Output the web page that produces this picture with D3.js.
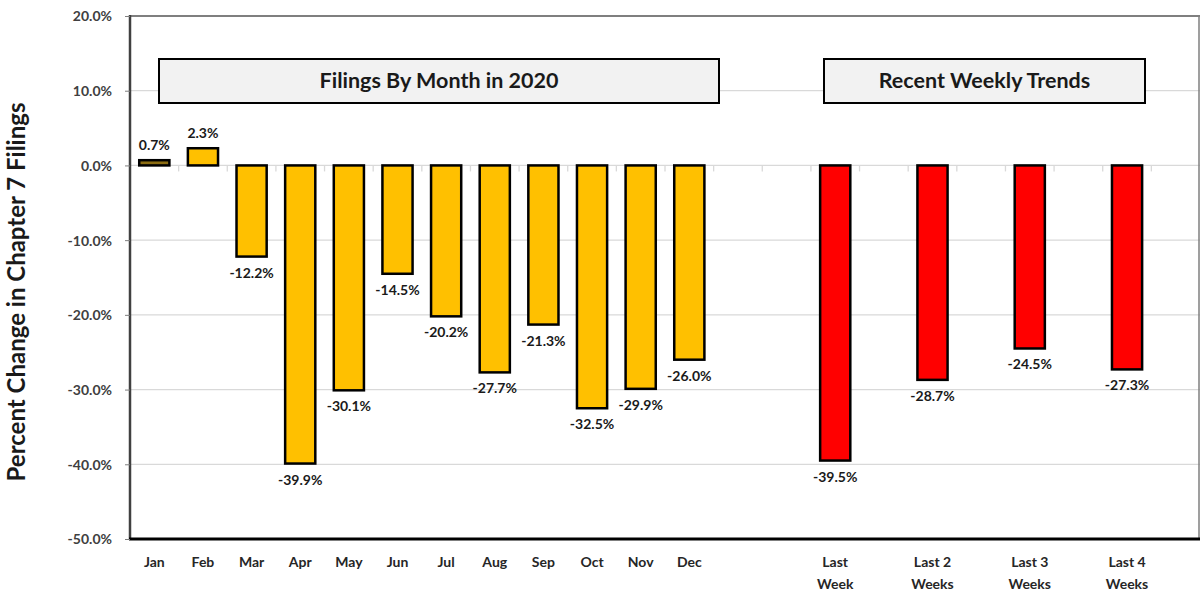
<!DOCTYPE html>
<html><head><meta charset="utf-8">
<script src="https://cdn.jsdelivr.net/npm/d3@7"></script>
<style>
body{margin:0;background:#fff;}
text{font-family:Lato,"Open Sans",sans-serif;font-weight:bold;}
</style></head>
<body><svg id="chart" width="1201" height="599"></svg>
<script>
const months = ["Jan","Feb","Mar","Apr","May","Jun","Jul","Aug","Sep","Oct","Nov","Dec"];
const monthValues = [0.7, 2.3, -12.2, -39.9, -30.1, -14.5, -20.2, -27.7, -21.3, -32.5, -29.9, -26.0];
const weeks = ["Last|Week","Last 2|Weeks","Last 3|Weeks","Last 4|Weeks"];
const weekValues = [-39.5, -28.7, -24.5, -27.3];
const categories = [...months, "_b1", "_b2", weeks[0], "_b3", weeks[1], "_b4", weeks[2], "_b5", weeks[3], "_b6"];
const yTicks = [20, 10, 0, -10, -20, -30, -40, -50];
const boxTitles = ["Filings By Month in 2020", "Recent Weekly Trends"];

const fmt = v => d3.format(".1f")(v).replace("\u2212", "-") + "%";

const svg = d3.select("#chart");
const L = 130, R = 1200, T = 16, B = 539;
const x = d3.scaleBand().domain(categories).range([L, R]).paddingInner(0.38).paddingOuter(0.19);
const xs = d3.scaleBand().domain(categories).range([L, R]);
const y = d3.scaleLinear().domain([-50, 20]).range([B, T]);

// gridlines
svg.append("g").selectAll("line").data(yTicks).join("line")
  .attr("x1", L).attr("x2", R).attr("y1", d => y(d)).attr("y2", d => y(d))
  .attr("stroke", "#d9d9d9").attr("stroke-width", 1.3);

// annotation boxes
const boxes = [
  {t: boxTitles[0], x0: 159, x1: 719},
  {t: boxTitles[1], x0: 824, x1: 1145}
];
boxes.forEach(b => {
  svg.append("rect").attr("x", b.x0).attr("y", 59).attr("width", b.x1 - b.x0).attr("height", 44)
    .attr("fill", "#f2f2f2").attr("stroke", "#000").attr("stroke-width", 2);
  svg.append("text").attr("x", (b.x0 + b.x1) / 2).attr("y", 88).attr("text-anchor", "middle")
    .attr("font-size", 21.5).attr("fill", "#1a1a1a").text(b.t);
});

// category ticks on zero line
svg.append("g").selectAll("line").data(categories.slice(1)).join("line")
  .attr("x1", d => xs(d)).attr("x2", d => xs(d)).attr("y1", y(0)).attr("y2", y(0) + 6)
  .attr("stroke", "#d9d9d9").attr("stroke-width", 1.3);

// bars
const data = [
  ...months.map((m, i) => ({c: m, v: monthValues[i], fill: i === 0 ? "#8c6d12" : "#ffc000"})),
  ...weeks.map((w, i) => ({c: w, v: weekValues[i], fill: "#ff0000"}))
];
svg.append("g").selectAll("rect").data(data).join("rect")
  .attr("x", d => x(d.c)).attr("width", x.bandwidth())
  .attr("y", d => y(Math.max(0, d.v))).attr("height", d => Math.abs(y(d.v) - y(0)))
  .attr("fill", d => d.fill).attr("stroke", "#000").attr("stroke-width", 2.5);

// value labels
svg.append("g").selectAll("text").data(data).join("text")
  .attr("x", d => x(d.c) + x.bandwidth() / 2)
  .attr("y", d => d.v >= 0 ? y(d.v) - 10 : y(d.v) + 21)
  .attr("text-anchor", "middle").attr("font-size", 14).attr("fill", "#1a1a1a")
  .text(d => fmt(d.v));

// axes frame
svg.append("line").attr("x1", L).attr("x2", R).attr("y1", T).attr("y2", T).attr("stroke", "#7f7f7f").attr("stroke-width", 2);
svg.append("line").attr("x1", R - 1).attr("x2", R - 1).attr("y1", T).attr("y2", B).attr("stroke", "#7f7f7f").attr("stroke-width", 1.5);
svg.append("line").attr("x1", L).attr("x2", L).attr("y1", T - 1).attr("y2", B).attr("stroke", "#404040").attr("stroke-width", 2.5);
svg.append("line").attr("x1", L - 1).attr("x2", R).attr("y1", B).attr("y2", B).attr("stroke", "#000").attr("stroke-width", 3);

// y axis ticks and labels
const yAxis = d3.axisLeft(y).tickValues(yTicks).tickSize(5).tickFormat(fmt);
const ya = svg.append("g").attr("transform", `translate(${L},0)`).call(yAxis);
ya.select(".domain").remove();
ya.selectAll(".tick line").attr("stroke", "#7f7f7f");
ya.selectAll(".tick text").attr("font-size", 14).attr("fill", "#404040")
  .attr("font-family", "Lato, sans-serif").attr("font-weight", "bold").attr("x", -18).attr("dy", "0.35em");

// x labels
const xl = svg.append("g").selectAll("text").data(data).join("text")
  .attr("x", d => x(d.c) + x.bandwidth() / 2).attr("y", 567)
  .attr("text-anchor", "middle").attr("font-size", 14).attr("fill", "#262626");
xl.each(function(d) {
  const parts = d.c.split("|");
  d3.select(this).selectAll("tspan").data(parts).join("tspan")
    .attr("x", x(d.c) + x.bandwidth() / 2).attr("dy", (p, i) => i === 0 ? 0 : 22).text(p => p);
});

// y title
svg.append("text").attr("transform", "translate(25,292) rotate(-90)").attr("text-anchor", "middle")
  .attr("font-size", 24).attr("fill", "#1a1a1a").text("Percent Change in Chapter 7 Filings");
</script></body></html>
